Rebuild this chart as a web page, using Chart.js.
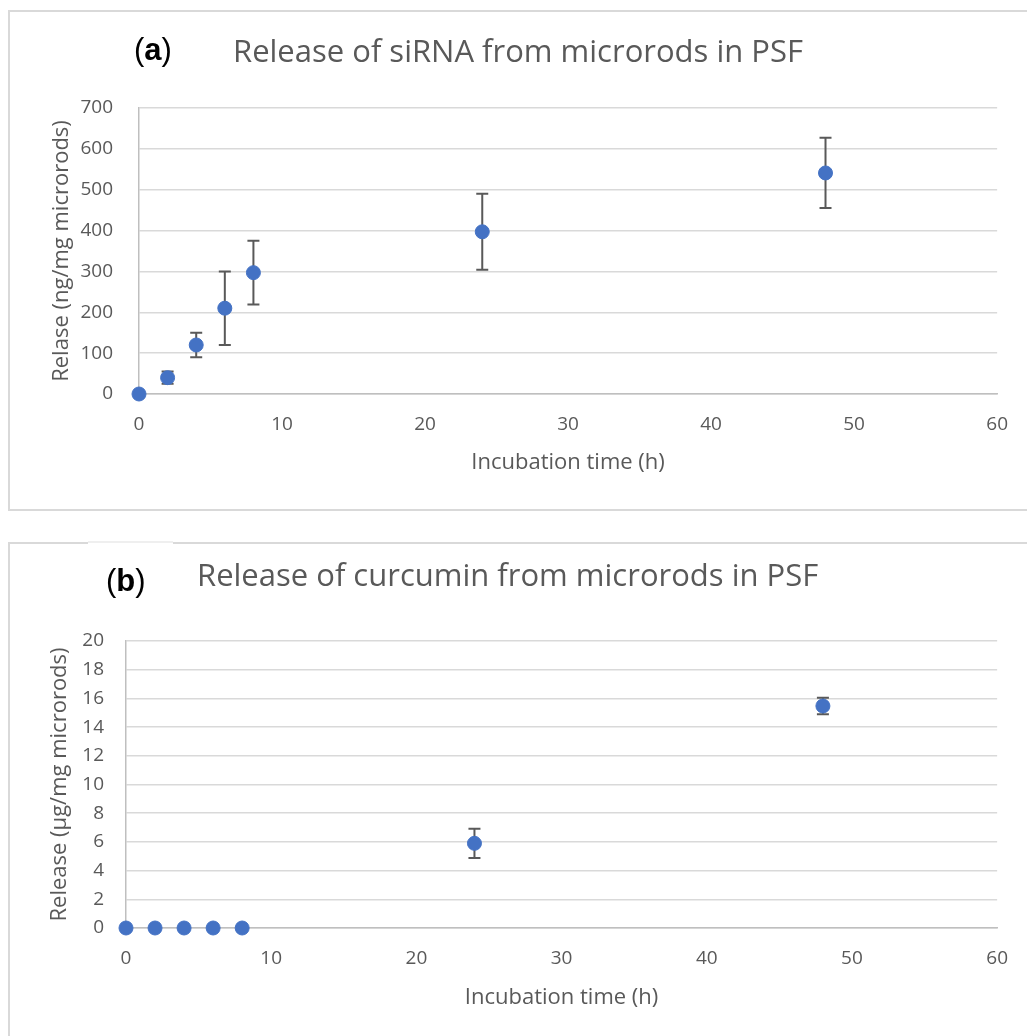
<!DOCTYPE html>
<html>
<head>
<meta charset="utf-8">
<script src="https://cdn.jsdelivr.net/npm/chart.js@4.4.0/dist/chart.umd.min.js"></script>
<style>
body{margin:0;background:#fff;width:1027px;height:1036px;overflow:hidden;position:relative;font-family:"Open Sans",sans-serif}
.panel{position:absolute;border:2px solid #d9d9d9;box-sizing:border-box}
.wrap{position:absolute;left:0}
.lbl{position:absolute;font-family:"Liberation Sans",Arial,sans-serif;font-size:31px;line-height:1;color:#000;background:#fff}
.ttl{position:absolute;font-size:31px;line-height:1;color:#595959;white-space:nowrap}
</style>
</head>
<body>
<div class="panel" style="left:8px;top:10px;width:1030px;height:501px"></div>
<div class="panel" style="left:8px;top:542px;width:1030px;height:600px"></div>

<div class="wrap" style="top:0"><canvas id="chartA" width="1027" height="510"></canvas></div>
<div class="wrap" style="top:543px"><canvas id="chartB" width="1027" height="493"></canvas></div>

<div class="lbl" style="left:134px;top:34px">(<b>a</b>)</div>
<div class="ttl" style="left:233px;top:35px">Release of siRNA from microrods in PSF</div>
<div class="lbl" style="left:88px;top:541px;width:85px;height:55px;border-top:2px solid #efefef;box-sizing:border-box"><span style="position:absolute;left:18px;top:22px">(<b>b</b>)</span></div>
<div class="ttl" style="left:197px;top:559px">Release of curcumin from microrods in PSF</div>

<script>
// incubation time (h)
const timesA = [0, 2, 4, 6, 8, 24, 48];
const sirna = [0, 40, 120, 210, 297, 397, 541];
const sirnaErr = [0, 15, 30, 90, 78, 93, 86];

const timesB = [0, 2, 4, 6, 8, 24, 48];
const curcumin = [0, 0, 0, 0, 0, 5.9, 15.47];
const curcuminErr = [0, 0, 0, 0, 0, 1.02, 0.58];

const xTicks = [0, 10, 20, 30, 40, 50, 60];

const grey = '#595959';

function makeChart(id, times, vals, errs, cfg) {
  // error bars drawn under the markers, using the chart's scales
  const errorBars = {
    id: 'errorBars',
    beforeDatasetsDraw(chart) {
      const ctx = chart.ctx, x = chart.scales.x, y = chart.scales.y;
      ctx.save();
      ctx.strokeStyle = grey;
      ctx.lineWidth = 2;
      vals.forEach((v, i) => {
        const e = errs[i];
        if (!e) return;
        const px = x.getPixelForValue(times[i]);
        const top = y.getPixelForValue(v + e);
        const bot = y.getPixelForValue(v - e);
        ctx.beginPath();
        ctx.moveTo(px, top); ctx.lineTo(px, bot);
        ctx.moveTo(px - 6, top); ctx.lineTo(px + 6, top);
        ctx.moveTo(px - 6, bot); ctx.lineTo(px + 6, bot);
        ctx.stroke();
      });
      ctx.restore();
    }
  };

  new Chart(document.getElementById(id), {
    type: 'scatter',
    data: {
      datasets: [{
        data: times.map((t, i) => ({x: t, y: vals[i]})),
        backgroundColor: '#4472C4',
        borderColor: '#4472C4',
        borderWidth: 1,
        pointRadius: 7,
        showLine: false,
        clip: false
      }]
    },
    options: {
      responsive: false,
      animation: false,
      events: [],
      layout: {padding: {left: 0, right: 29, top: cfg.top, bottom: 0}},
      plugins: {legend: {display: false}, tooltip: {enabled: false}},
      scales: {
        x: {
          type: 'linear',
          min: 0, max: 60,
          afterBuildTicks: s => { s.ticks = xTicks.map(v => ({value: v})); },
          grid: {display: false, drawTicks: false},
          border: {display: true, color: '#bfbfbf', width: 1.5},
          ticks: {padding: 19, color: grey, font: {family: 'Open Sans', size: 19}},
          title: {display: true, text: 'Incubation time (h)', color: grey,
                  font: {family: 'Open Sans', size: 22}, padding: {top: 0, bottom: cfg.xTitlePad}},
          afterFit: s => { s.height = cfg.xHeight; }
        },
        y: {
          min: 0, max: cfg.yMax,
          ticks: {stepSize: cfg.yStep, padding: cfg.yTickPad, color: grey, font: {family: 'Open Sans', size: 19}},
          grid: {color: '#d9d9d9', lineWidth: 1.5, drawTicks: false},
          border: {display: true, color: '#bfbfbf', width: 1.5},
          title: {display: true, text: cfg.yTitle, color: grey,
                  font: {family: 'Open Sans', size: 22}, padding: {top: cfg.yTitlePad, bottom: 0}},
          afterFit: s => { s.width = cfg.yWidth; }
        }
      }
    },
    plugins: [errorBars]
  });
}

makeChart('chartA', timesA, sirna, sirnaErr, {
  top: 108, xHeight: 116, yWidth: 139, yMax: 700, yStep: 100,
  yTickPad: 26, yTitlePad: 49, xTitlePad: 34,
  yTitle: 'Relase (ng/mg microrods)'
});

makeChart('chartB', timesB, curcumin, curcuminErr, {
  top: 98, xHeight: 108, yWidth: 126, yMax: 20, yStep: 2,
  yTickPad: 22, yTitlePad: 47, xTitlePad: 25,
  yTitle: 'Release (µg/mg microrods)'
});
</script>
</body>
</html>
